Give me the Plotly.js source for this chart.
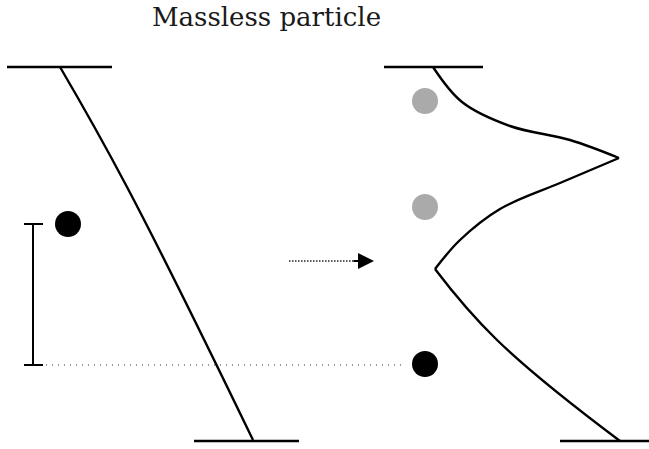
<!DOCTYPE html>
<html><head><meta charset="utf-8">
<script src="https://cdn.plot.ly/plotly-3.0.1.min.js"></script>
<style>html,body{margin:0;padding:0;background:#fff}#c{width:649px;height:449px}</style>
</head><body><div id="c"></div>
<script>
// Diagram coordinates (pixel-like units, y grows downward)
const leftTopBarX = [7, 112], leftTopBarY = [67, 67];
const leftBotBarX = [194, 299], leftBotBarY = [441, 441];
const leftRodX = [60, 127, 253];
const leftRodY = [67, 187, 440];
const rightTopBarX = [384, 483], rightTopBarY = [67, 67];
const rightBotBarX = [560, 649], rightBotBarY = [441, 441];
const curve1X = [433, 462, 510, 570, 619];
const curve1Y = [67, 102, 126, 140, 158];
const curve2X = [619, 560, 500, 460, 435];
const curve2Y = [158, 183, 209, 240, 269];
const curve3X = [435, 497, 620];
const curve3Y = [269, 340, 441];
const blackDotsX = [68, 425], blackDotsY = [224, 364];
const greyDotsX = [425, 425], greyDotsY = [101, 207];
const bracketX = [33, 33], bracketY = [224, 365];
const capTopX = [24, 43], capTopY = [224, 224];
const capBotX = [24, 43], capBotY = [365, 365];
const dottedX = [46, 406], dottedY = [365, 365];
const arrowX = [289, 374], arrowY = [261, 261];
const titleText = "Massless particle";

const blk = '#000';
function line(x, y, w, extra) {
  return Object.assign({x, y, mode: 'lines', line: {color: blk, width: w}, hoverinfo: 'skip', showlegend: false}, extra || {});
}
const sp = {color: blk, width: 2.4, shape: 'spline', smoothing: 1};
const traces = [
  line(leftTopBarX, leftTopBarY, 2.5),
  line(leftBotBarX, leftBotBarY, 2.5),
  line(leftRodX, leftRodY, 2.4, {line: {color: blk, width: 2.4, shape: 'spline', smoothing: 1.2}}),
  line(rightTopBarX, rightTopBarY, 2.5),
  line(rightBotBarX, rightBotBarY, 2.5),
  line(curve1X, curve1Y, 2.4, {line: sp}),
  line(curve2X, curve2Y, 2.4, {line: sp}),
  line(curve3X, curve3Y, 2.4, {line: {color: blk, width: 2.4, shape: 'spline', smoothing: 1.2}}),
  line(bracketX, bracketY, 2),
  line(capTopX, capTopY, 2),
  line(capBotX, capBotY, 2),
  line(dottedX, dottedY, 1, {line: {color: '#333', width: 1, dash: '1px,5px'}}),
  line([arrowX[0], arrowX[1] - 18], arrowY, 1.2, {line: {color: '#222', width: 1.3, dash: '1.5px,1.5px'}}),
  {x: greyDotsX, y: greyDotsY, mode: 'markers', marker: {size: 26, color: '#aaaaaa', line: {width: 0}}, hoverinfo: 'skip', showlegend: false},
  {x: blackDotsX, y: blackDotsY, mode: 'markers', marker: {size: 26, color: '#000', line: {width: 0}}, hoverinfo: 'skip', showlegend: false}
];
const layout = {
  width: 649, height: 449,
  margin: {l: 0, r: 0, t: 0, b: 0},
  paper_bgcolor: '#fff', plot_bgcolor: '#fff',
  xaxis: {range: [0, 649], visible: false, fixedrange: true},
  yaxis: {range: [449, 0], visible: false, fixedrange: true},
  showlegend: false,
  annotations: [
    {x: 266, y: 17, xref: 'x', yref: 'y', text: titleText, showarrow: false,
     font: {family: 'DejaVu Serif, Liberation Serif, serif', size: 26, color: '#1a1a1a'}},
    {x: arrowX[1], y: arrowY[1], ax: arrowX[1] - 22, ay: arrowY[1], xref: 'x', yref: 'y', axref: 'x', ayref: 'y',
     text: '', showarrow: true, arrowhead: 2, arrowsize: 1.6, arrowwidth: 2, arrowcolor: '#000'}
  ]
};
Plotly.newPlot('c', traces, layout, {staticPlot: true, displayModeBar: false});
</script></body></html>
